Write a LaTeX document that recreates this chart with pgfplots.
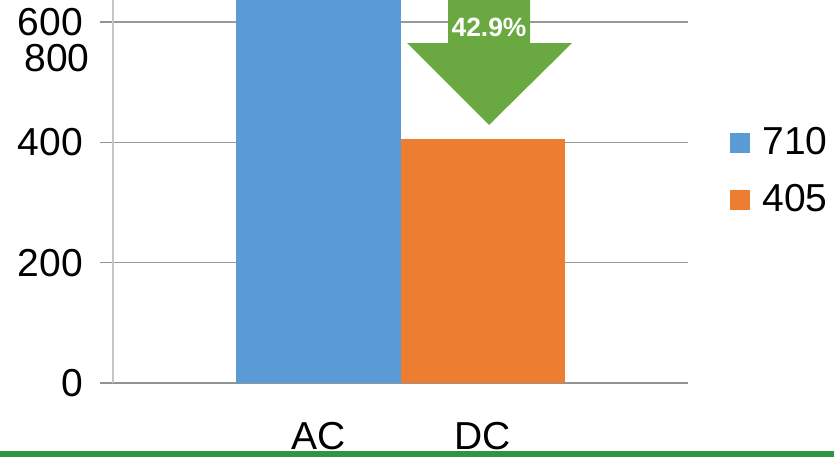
\documentclass[border=0pt]{standalone}
\usepackage{pgfplots}
\pgfplotsset{compat=1.18}
\usepackage{fontspec}
\setmainfont{Liberation Sans}
\definecolor{cblue}{RGB}{91,155,213}
\definecolor{corange}{RGB}{237,125,49}
\definecolor{carrow}{RGB}{106,168,66}
\definecolor{cline}{RGB}{45,150,70}
\begin{document}
\begin{tikzpicture}
\useasboundingbox (0pt,0pt) rectangle (417pt,228.5pt);
\begin{axis}[
  at={(56.5pt,37pt)}, anchor=south west,
  scale only axis, width=287.5pt, height=191.5pt,
  xmin=-1.753, xmax=1.753, ymin=0, ymax=636.5,
  axis lines*=left,
  x axis line style={draw=gray!85, line width=0.7pt},
  y axis line style={draw=gray!45, line width=0.9pt},
  ytick={0,200,400,600},
  yticklabels={0,200,400,600},
  xtick={-0.5,0.5},
  xticklabels={AC,DC},
  major x tick style={draw=none},
  extra x ticks={-1.753,1.753},
  extra x tick labels={},
  extra x tick style={tick align=outside, major tick length=8pt, tick style={draw=gray!70, line width=0.7pt}},
  tick align=outside,
  major tick length=6.5pt,
  ytick style={draw=gray!85, line width=0.7pt},
  ymajorgrids,
  grid style={draw=gray!80, line width=0.6pt},
  ticklabel style={font=\fontsize{19.5}{22}\selectfont},
  yticklabel style={xshift=-5pt},
  xticklabel style={yshift=-9.5pt},
  legend style={at={(1.073,0.553)}, anchor=west, draw=none, fill=none,
    font=\fontsize{19.5}{22}\selectfont, row sep=9.5pt, inner sep=0pt},
  legend cell align=left,
]
\addplot[ybar, bar width=1, bar shift=0pt, fill=cblue, draw=none,
  legend image code/.code={\fill[cblue] (0pt,-5pt) rectangle (10pt,5pt); \path (14pt,0pt);}]
  coordinates {(-0.5,710)};
\addlegendentry{710}
\addplot[ybar, bar width=1, bar shift=0pt, fill=corange, draw=none,
  legend image code/.code={\fill[corange] (0pt,-5pt) rectangle (10pt,5pt); \path (14pt,0pt);}]
  coordinates {(0.5,405)};
\addlegendentry{405}
\end{axis}
\node[anchor=east, inner sep=0pt, font=\fontsize{19.5}{22}\selectfont] at (45pt,199.5pt) {800};
\fill[carrow] (224pt,228.5pt) -- (224pt,207pt) -- (203.5pt,207pt) -- (244.5pt,166pt) -- (286pt,207pt) -- (265pt,207pt) -- (265pt,228.5pt) -- cycle;
\node[text=white, font=\bfseries\fontsize{13.2}{15}\selectfont, inner sep=0pt] at (244.5pt,215pt) {42.9\%};
\fill[cline] (0pt,0pt) rectangle (417pt,3pt);
\end{tikzpicture}
\end{document}
